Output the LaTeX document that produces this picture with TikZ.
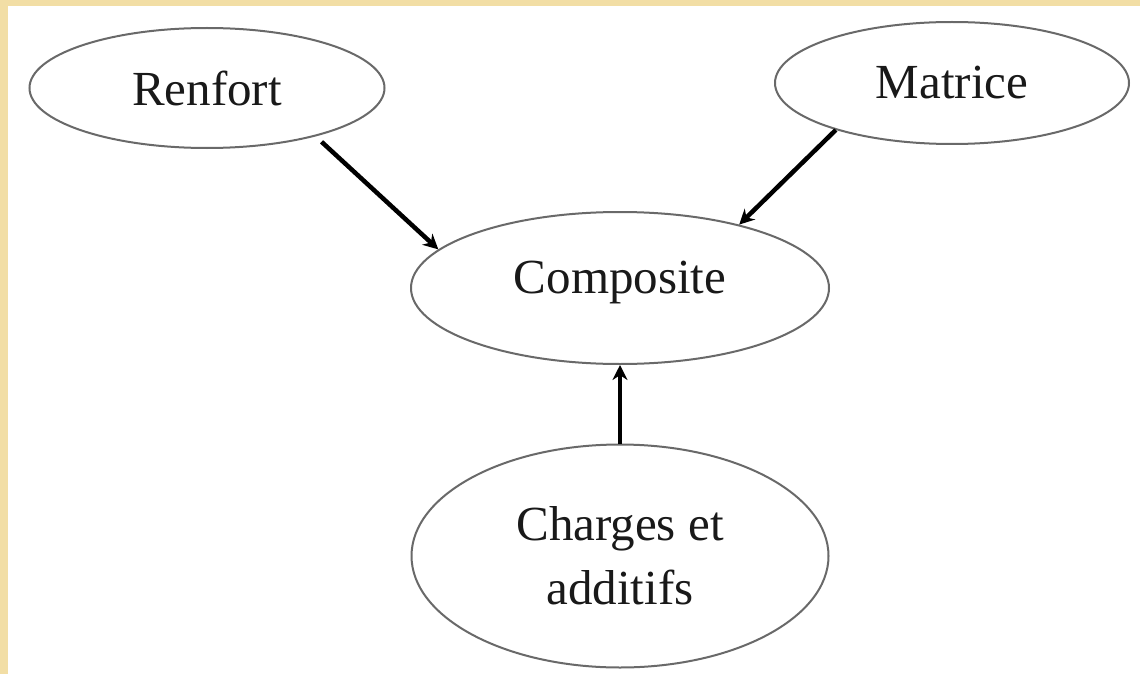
\documentclass[tikz,border=0pt]{standalone}
\usepackage{fontspec}
\setmainfont{Liberation Serif}
\usetikzlibrary{shapes.geometric,arrows.meta}
\definecolor{frameyel}{RGB}{242,222,165}
\definecolor{ellgray}{RGB}{105,105,105}
\definecolor{txtgray}{RGB}{25,25,25}
\tikzset{
  oval/.style={ellipse, draw=ellgray, line width=2pt, fill=white, inner sep=0pt,
    text=txtgray, font=\fontsize{49}{64}\selectfont, align=center},
  link/.style={line width=4.5pt, black, -{Stealth[length=15pt,width=15pt]}}
}
\begin{document}
\begin{tikzpicture}[x=1pt,y=-1pt]
\useasboundingbox (0,0) rectangle (1140,674);
\fill[white] (0,0) rectangle (1140,674);
\fill[frameyel] (0,0) rectangle (1140,6);
\fill[frameyel] (0,0) rectangle (8,674);
\node[oval, minimum width=355pt, minimum height=120pt] (ren) at (207,88) {Renfort};
\node[oval, minimum width=354pt, minimum height=122pt] (mat) at (952,83) {Matrice};
\node[oval, minimum width=418pt, minimum height=152pt, text depth=22pt] (comp) at (620,288) {Composite};
\node[oval, minimum width=417pt, minimum height=223pt] (chg) at (620,556) {Charges et\\additifs};
\draw[link, shorten <=8pt] (ren.-24) -- (comp.168);
\draw[link] (mat.-158) -- (comp.28);
\draw[link] (chg.north) -- (comp.south);
\end{tikzpicture}
\end{document}
